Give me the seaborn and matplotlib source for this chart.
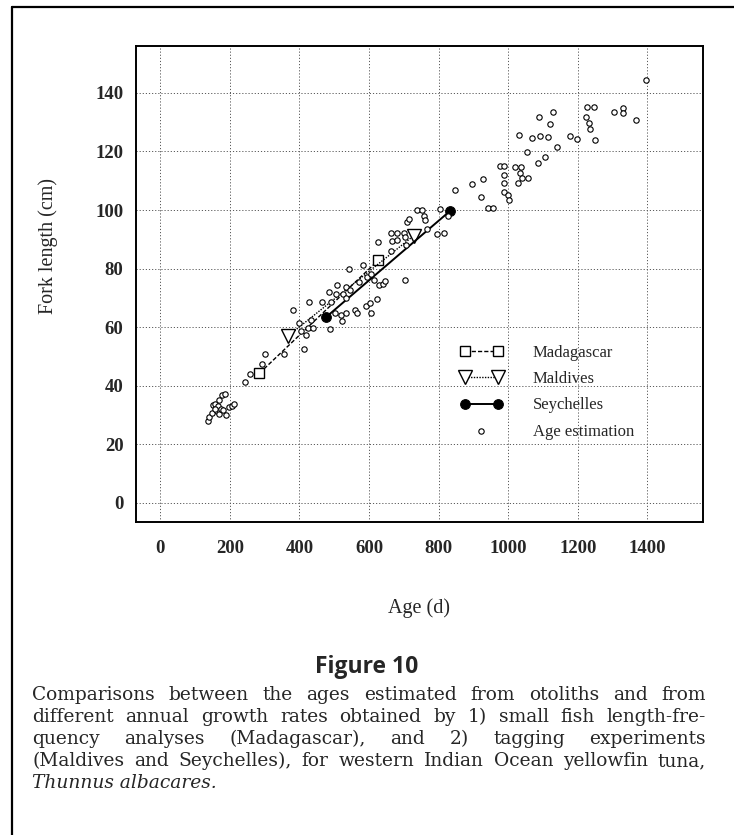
import numpy as np
import pandas as pd
import seaborn as sns
import matplotlib.pyplot as plt
from matplotlib.lines import Line2D
from matplotlib import font_manager

# -------------------------------
# Data
# -------------------------------
age_days = [138, 141, 148, 152, 158, 162, 166, 170, 174, 176, 181, 187, 190, 197, 205, 212, 156, 168,
            244, 257, 293, 301, 355, 412, 382, 400, 405, 420, 425, 440, 428, 465, 488, 432,
            485, 490, 505, 507, 525, 535, 545, 533, 503, 520, 523, 535, 560, 565, 590, 602, 607, 623,
            543, 582, 570, 595, 605, 615, 628, 640, 647, 703, 625,
            662, 679, 665, 681, 700, 703, 705, 663, 709, 714,
            737, 753, 757, 761, 766, 795, 815, 805, 827,
            846, 897, 928, 923, 941, 955, 977, 989, 987, 987, 987, 998, 1001,
            1020, 1038, 1033, 1041, 1057, 1029, 1054, 1087, 1106, 1139,
            1031, 1067, 1091, 1114, 1088, 1128, 1119, 1178, 1199,
            1227, 1247, 1225, 1232, 1234, 1250, 1305, 1329, 1329, 1368, 1395]
fork_cm = [28.1, 29.3, 30.6, 33.4, 33.8, 31.5, 33.0, 30.3, 32.2, 36.8, 31.8, 37.1, 29.9, 32.6, 33.2, 33.8, 32.2, 35.0,
           41.2, 44.0, 47.3, 50.7, 50.7, 52.6, 65.9, 61.4, 58.6, 57.2, 59.7, 59.7, 68.7, 68.7, 59.5, 62.5,
           72.1, 68.7, 71.5, 74.4, 71.5, 73.8, 72.7, 69.9, 64.8, 64.2, 62.0, 65.0, 65.9, 64.8, 67.4, 68.2, 64.8, 69.5,
           79.8, 81.1, 75.5, 77.2, 78.0, 76.1, 74.4, 74.9, 75.7, 76.1, 89.2,
           92.1, 92.3, 89.4, 89.8, 92.3, 90.8, 88.0, 86.0, 96.0, 96.9,
           99.9, 99.9, 98.0, 96.7, 93.6, 91.8, 92.0, 100.5, 97.8,
           106.8, 108.9, 110.7, 104.5, 100.8, 100.8, 115.1, 115.1, 112.1, 109.4, 106.2, 105.1, 103.5,
           114.8, 114.8, 112.8, 111.1, 111.1, 109.2, 119.7, 116.2, 118.0, 121.4,
           125.7, 124.6, 125.4, 125.0, 131.7, 133.4, 129.3, 125.3, 124.4,
           135.2, 135.2, 131.8, 129.8, 127.5, 123.9, 133.4, 134.9, 133.2, 130.9, 144.3]

madagascar_age = [285, 626]
madagascar_len = [44.3, 82.8]
maldives_age = [367, 728]
maldives_len = [57.0, 91.2]
seychelles_age = [477, 832]
seychelles_len = [63.5, 99.6]

x_ticks = [0, 200, 400, 600, 800, 1000, 1200, 1400]
y_ticks = [0, 20, 40, 60, 80, 100, 120, 140]

caption_lines = [
    "Comparisons between the ages estimated from otoliths and from",
    "different annual growth rates obtained by 1) small fish length-fre-",
    "quency analyses (Madagascar), and 2) tagging experiments",
    "(Maldives and Seychelles), for western Indian Ocean yellowfin tuna,",
]
caption_last = "Thunnus albacares."


def pick_font(candidates):
    names = {f.name for f in font_manager.fontManager.ttflist}
    for c in candidates:
        if c in names:
            return c
    return 'DejaVu Serif'


times = pick_font(['Liberation Serif', 'Times New Roman', 'Nimbus Roman', 'DejaVu Serif'])

# -------------------------------
# Figure
# -------------------------------
sns.set_style("white")
plt.rcParams['font.family'] = [times, 'DejaVu Serif']

W, H = 734, 835
fig = plt.figure(figsize=(W / 100, H / 100), dpi=100)
ax = fig.add_axes([136 / W, 1 - 522 / H, (703 - 136) / W, (522 - 46) / H])

est = pd.DataFrame({'age': age_days, 'length': fork_cm})

sns.lineplot(x=madagascar_age, y=madagascar_len, ax=ax, color='black', lw=1.0,
             linestyle=(0, (3, 1.5)), marker='s', markersize=7.5, markerfacecolor='white',
             markeredgecolor='black', markeredgewidth=1.0, label='Madagascar')
sns.lineplot(x=maldives_age, y=maldives_len, ax=ax, color='black', lw=1.0,
             linestyle=(0, (1, 1)), marker='v', markersize=10, markerfacecolor='white',
             markeredgecolor='black', markeredgewidth=1.0, label='Maldives')
sns.lineplot(x=seychelles_age, y=seychelles_len, ax=ax, color='black', lw=1.4,
             linestyle='-', marker='o', markersize=7, markerfacecolor='black',
             markeredgecolor='black', label='Seychelles')
sns.scatterplot(data=est, x='age', y='length', ax=ax, s=15, facecolor='white',
                edgecolor='black', linewidth=0.8, label='Age estimation', zorder=3)

ax.set_xlim(-70, 1560)
ax.set_ylim(-6.5, 156)
ax.set_xticks(x_ticks)
ax.set_yticks(y_ticks)
ax.set_xticklabels([str(v) for v in x_ticks], fontweight='bold', fontsize=13.5, family=times)
ax.set_yticklabels([str(v) for v in y_ticks], fontweight='bold', fontsize=13.5, family=times)
ax.tick_params(axis='x', length=0, pad=13)
ax.tick_params(axis='y', length=0, pad=9)
ax.grid(True, color='0.35', linestyle=(0, (1.2, 2.0)), linewidth=0.7)
for s in ax.spines.values():
    s.set_linewidth(1.4)
    s.set_color('black')

ax.set_xlabel('Age (d)', fontsize=14.5, family=times)
ax.set_ylabel('Fork length (cm)', fontsize=14.5, family=times)
ax.xaxis.set_label_coords(0.5, -0.16)
ax.yaxis.set_label_coords(-0.137, 0.58)

leg = ax.legend(loc='upper left', bbox_to_anchor=(0.556, 0.39), frameon=False,
                numpoints=2, scatterpoints=1, handlelength=2.6,
                handletextpad=1.8, labelspacing=0.62, borderpad=0,
                prop={'family': times, 'size': 12})

# -------------------------------
# Outer panel rules
# -------------------------------
fig.add_artist(Line2D([12 / W, 12 / W], [0, 1 - 7 / H], transform=fig.transFigure, color='black', lw=1.6))
fig.add_artist(Line2D([12 / W, 1], [1 - 7 / H, 1 - 7 / H], transform=fig.transFigure, color='black', lw=1.6))

# -------------------------------
# Caption (justified)
# -------------------------------
fig.text(367 / W, 1 - 667 / H, 'Figure 10', ha='center', va='center', fontsize=16.5,
         fontweight='bold', family=['Open Sans', 'DejaVu Sans'])

renderer = fig.canvas.get_renderer()
x_left, x_right = 32, 706
cap_kw = dict(fontsize=13.4, family=['DejaVu Serif'], va='baseline')
for i, line in enumerate(caption_lines):
    y = 1 - (700 + i * 22) / H
    words = line.split(' ')
    texts = [fig.text(0, y, w, **cap_kw) for w in words]
    widths = [t.get_window_extent(renderer).width for t in texts]
    gap = (x_right - x_left - sum(widths)) / (len(words) - 1)
    x = x_left
    for t, w in zip(texts, widths):
        t.set_x(x / W)
        x += w + gap
fig.text(x_left / W, 1 - (700 + 4 * 22) / H, caption_last, style='italic', **cap_kw)

fig.savefig('out.png', dpi=100)
